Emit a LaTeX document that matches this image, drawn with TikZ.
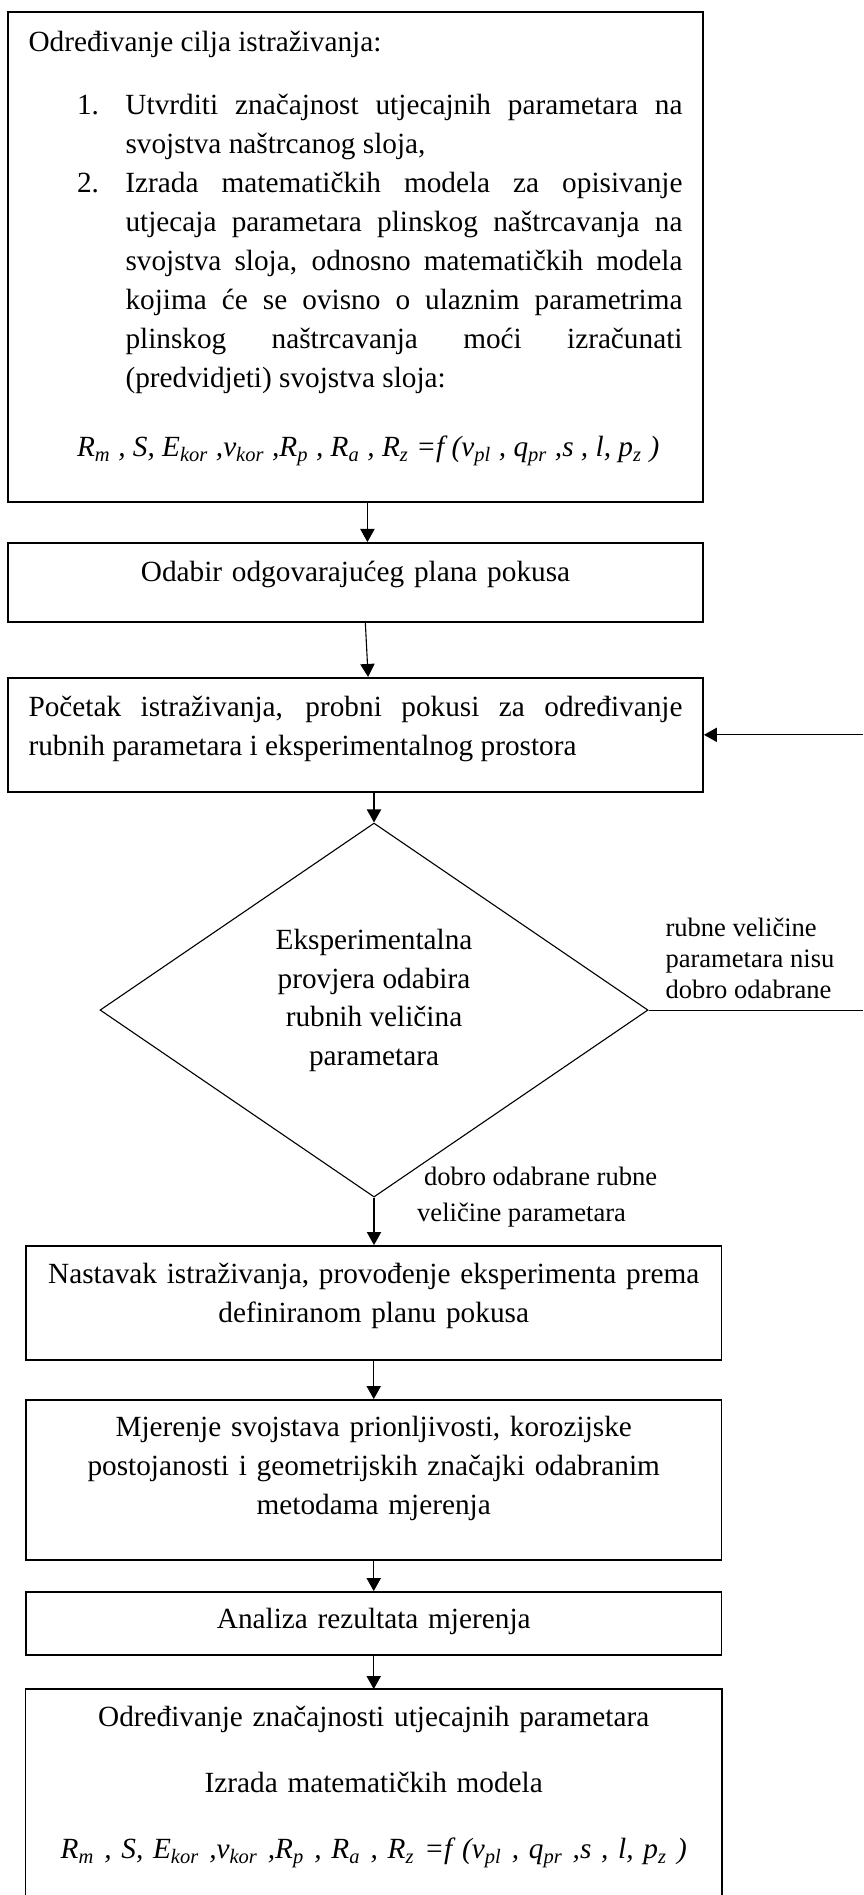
\documentclass[tikz,border=0pt]{standalone}
\usepackage{fontspec}
\setmainfont{Liberation Serif}
\usetikzlibrary{arrows.meta,shapes.geometric}
\hbadness=10000
\newcommand\tekst{\fontsize{11.9}{15.86}\selectfont}
\newcommand\sitno{\fontsize{10.8}{12.6}\selectfont}
\newcommand\sitnorijetko{\fontsize{10.8}{14.6}\selectfont}
\newcommand\jednadzba{\textit{R\textsubscript{m} , S, E\textsubscript{kor} ,v\textsubscript{kor} ,R\textsubscript{p} , R\textsubscript{a} , R\textsubscript{z} =f (v\textsubscript{pl} , q\textsubscript{pr} ,s , l, p\textsubscript{z} )}}
\tikzset{
  okvir/.style={draw, line width=0.65pt, inner xsep=8.38pt, inner ysep=0pt, text width=265.8pt, anchor=north, font=\tekst},
  romb/.style={diamond, draw, line width=0.45pt, aspect=1.465, inner sep=0pt, minimum width=7.829cm, minimum height=5.343cm, align=center, font=\fontsize{11.9}{15.65}\selectfont},
  strelica/.style={line width=0.45pt, -{Triangle[length=5.3pt,width=5.8pt]}},
  oznaka/.style={inner sep=0pt, anchor=west, align=left}
}

\begin{document}
\begin{tikzpicture}
		%%%%% START %%%%%
		\useasboundingbox (0,0) rectangle (12.329,-27.071);
		\coordinate (rub) at (12.329,0);
		
		\node[okvir, align=justify, text height=16.26pt, text depth=182.97pt] (cilj) at (5.079,-0.157) {%
			Određivanje cilja istraživanja:\par
			\vspace{9.74pt}
			{\leftskip=39.4pt\noindent\llap{\makebox[19.7pt][l]{1.}}Utvrditi značajnost utjecajnih parametara na\linebreak svojstva naštrcanog sloja,\par}
			{\leftskip=39.4pt\noindent\llap{\makebox[19.7pt][l]{2.}}Izrada matematičkih modela za opisivanje\linebreak utjecaja parametara plinskog naštrcavanja na\linebreak svojstva sloja, odnosno matematičkih modela\linebreak kojima će se ovisno o ulaznim parametrima\linebreak plinskog naštrcavanja moći izračunati\linebreak (predvidjeti) svojstva sloja:\par}
			\vspace{12.2pt}
			{\leftskip=19.7pt\noindent\jednadzba\par}};
		
		\node[okvir, align=center, text height=15.86pt, text depth=16.26pt] (odabir) at (5.079,-7.743) {Odabir odgovarajućeg plana pokusa};
		
		\node[okvir, align=justify, text height=15.86pt, text depth=30.5pt] (pocetak) at (5.079,-9.671) {Početak istraživanja, probni pokusi za određivanje\linebreak rubnih parametara i eksperimentalnog prostora};
		
		\node[romb, text depth=10.4pt] (provjera) at (5.343,-14.429) {Eksperimentalna\\ provjera odabira\\ rubnih veličina\\ parametara};
		
		\node[okvir, align=center, text height=15.45pt, text depth=30.9pt] (nastavak) at (5.339,-17.786) {Nastavak istraživanja, provođenje eksperimenta prema\\ definiranom planu pokusa};
		
		\node[okvir, align=center, text height=15.04pt, text depth=50.01pt] (mjerenje) at (5.339,-19.986) {Mjerenje svojstava prionljivosti, korozijske\\ postojanosti i geometrijskih značajki odabranim\\ metodama mjerenja};
		
		\node[okvir, align=center, text height=15.04pt, text depth=10.57pt] (analiza) at (5.339,-22.729) {Analiza rezultata mjerenja};
		
		\node[okvir, draw=none, align=center, text height=15.04pt, text depth=68.72pt] (izrada) at (5.339,-24.129) {Određivanje značajnosti utjecajnih parametara\\[10.97pt] Izrada matematičkih modela\\[10.97pt] \jednadzba};
		\draw[line width=0.65pt] (izrada.south west) |- (izrada.north) -| (izrada.south east);
		
		% labels of the branches
		\node[oznaka, font=\sitno] (nisu) at (9.5,-13.686) {rubne veličine\\ parametara nisu\\ dobro odabrane};
		\node[oznaka, font=\sitnorijetko] (dobro) at (5.953,-17.1) {\hspace*{2.8pt}dobro odabrane rubne\\ veličine parametara};
		
		% arrows
		\draw[strelica] ([xshift=0.17cm]cilj.south) -- ([xshift=0.17cm]odabir.north);
		\draw[strelica] ([xshift=0.14cm]odabir.south) -- ([xshift=0.18cm]pocetak.north);
		\draw[strelica] (pocetak.south -| provjera.north) -- (provjera.north);
		\draw[strelica] (provjera.south) -- (provjera.south |- nastavak.north);
		\draw[strelica] (nastavak.south) -- (mjerenje.north);
		\draw[strelica] (mjerenje.south) -- (analiza.north);
		\draw[strelica] (analiza.south) -- (izrada.north);
		
		% back to the start
		\draw[line width=0.45pt] (provjera.east) -- (provjera.east -| rub);
		\draw[strelica] (pocetak.east -| rub) -- (pocetak.east);
		%%%%% END %%%%%
\end{tikzpicture}
\end{document}
